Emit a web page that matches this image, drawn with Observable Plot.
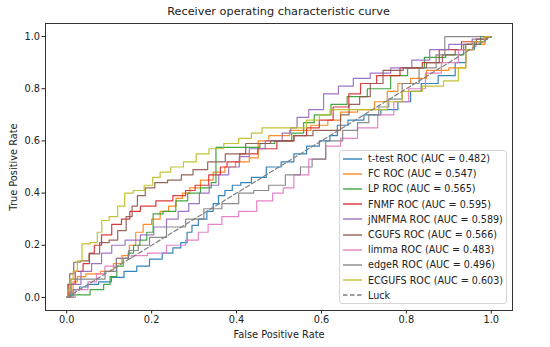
<!DOCTYPE html>
<html><head><meta charset="utf-8">
<script src="https://cdn.jsdelivr.net/npm/d3@7"></script>
<script src="https://cdn.jsdelivr.net/npm/@observablehq/plot@0.6"></script>
<style>
body{margin:0;background:#fff;font-family:"DejaVu Sans",sans-serif;}
#wrap{position:relative;width:550px;height:347px;}
#chart{position:absolute;left:0;top:0;}
#title{position:absolute;left:45px;width:467px;top:4px;text-align:center;font-size:11.3px;color:#222;line-height:16px;}
#legend{position:absolute;left:339px;top:150px;width:168px;height:154px;box-sizing:border-box;border:1px solid #d6d6d6;border-radius:3px;background:rgba(255,255,255,0.85);font-size:9.6px;color:#222;}
.row{display:flex;align-items:center;height:15.2px;}
.row svg{margin-left:3px;margin-right:6px;}
</style></head><body>
<div id="wrap"><div id="chart"></div><div id="title">Receiver operating characteristic curve</div><div id="legend"></div></div>
<script>
const seriesNames = ["t-test","FC","LP","FNMF","jNMFMA","CGUFS","limma","edgeR","ECGUFS"];
const legendLabels = ["t-test ROC (AUC = 0.482)","FC ROC (AUC = 0.547)","LP ROC (AUC = 0.565)","FNMF ROC (AUC = 0.595)","jNMFMA ROC (AUC = 0.589)","CGUFS ROC (AUC = 0.566)","limma ROC (AUC = 0.483)","edgeR ROC (AUC = 0.496)","ECGUFS ROC (AUC = 0.603)"];
const seriesColors = ["#1f77b4","#ff7f0e","#2ca02c","#d62728","#9467bd","#8c564b","#e377c2","#7f7f7f","#bcbd22"];
const axisTicks = [0,0.2,0.4,0.6,0.8,1.0];

const ttest = [[0,0],[0.01,0.01],[0.02,0.03],[0.04,0.04],[0.06,0.05],[0.09,0.06],[0.12,0.077],[0.15,0.1],[0.18,0.12],[0.21,0.147],[0.24,0.17],[0.26,0.19],[0.277,0.21],[0.29,0.25],[0.3,0.276],[0.32,0.3],[0.34,0.33],[0.35,0.36],[0.365,0.39],[0.38,0.41],[0.4,0.43],[0.42,0.44],[0.45,0.46],[0.49,0.5],[0.52,0.52],[0.55,0.55],[0.58,0.58],[0.61,0.6],[0.63,0.62],[0.645,0.66],[0.68,0.68],[0.72,0.7],[0.76,0.72],[0.8,0.75],[0.82,0.79],[0.85,0.82],[0.9,0.85],[0.93,0.9],[0.95,0.95],[0.97,0.98],[1,1]];
const fc = [[0,0],[0.01,0.02],[0.02,0.06],[0.03,0.08],[0.06,0.09],[0.1,0.1],[0.12,0.13],[0.14,0.16],[0.155,0.2],[0.17,0.25],[0.19,0.28],[0.21,0.3],[0.23,0.33],[0.25,0.35],[0.265,0.38],[0.28,0.4],[0.3,0.42],[0.33,0.45],[0.36,0.48],[0.385,0.5],[0.41,0.52],[0.45,0.535],[0.452,0.6],[0.5,0.62],[0.55,0.64],[0.6,0.66],[0.63,0.68],[0.66,0.71],[0.71,0.72],[0.74,0.75],[0.77,0.79],[0.79,0.82],[0.83,0.84],[0.865,0.87],[0.935,0.88],[0.945,0.95],[0.97,0.97],[1,1]];
const lp = [[0,0],[0.03,0.01],[0.08,0.03],[0.094,0.05],[0.11,0.08],[0.126,0.12],[0.14,0.15],[0.15,0.17],[0.165,0.2],[0.18,0.22],[0.197,0.25],[0.21,0.32],[0.244,0.33],[0.27,0.37],[0.3,0.4],[0.33,0.42],[0.351,0.44],[0.352,0.575],[0.44,0.575],[0.47,0.59],[0.51,0.6],[0.55,0.63],[0.566,0.67],[0.6,0.7],[0.645,0.74],[0.676,0.77],[0.74,0.8],[0.786,0.85],[0.82,0.88],[0.865,0.92],[0.92,0.93],[0.95,0.97],[1,1]];
const fnmf = [[0,0],[0.01,0.05],[0.03,0.1],[0.047,0.13],[0.06,0.17],[0.07,0.2],[0.094,0.24],[0.118,0.28],[0.14,0.3],[0.157,0.33],[0.19,0.35],[0.23,0.37],[0.27,0.39],[0.29,0.41],[0.315,0.43],[0.354,0.47],[0.37,0.5],[0.385,0.52],[0.43,0.55],[0.47,0.57],[0.52,0.6],[0.55,0.62],[0.58,0.65],[0.61,0.68],[0.645,0.73],[0.684,0.78],[0.7,0.82],[0.76,0.85],[0.81,0.88],[0.865,0.9],[0.89,0.95],[0.97,0.98],[1,1]];
const jnmfma = [[0,0],[0.02,0.05],[0.047,0.1],[0.07,0.13],[0.094,0.17],[0.118,0.2],[0.157,0.22],[0.19,0.24],[0.22,0.27],[0.25,0.3],[0.275,0.33],[0.3,0.36],[0.325,0.4],[0.346,0.43],[0.37,0.47],[0.393,0.5],[0.42,0.54],[0.44,0.57],[0.495,0.6],[0.52,0.63],[0.535,0.65],[0.55,0.69],[0.59,0.72],[0.62,0.78],[0.66,0.81],[0.69,0.84],[0.74,0.86],[0.786,0.88],[0.84,0.91],[0.87,0.95],[0.93,0.97],[0.98,0.99],[1,1]];
const cgufs = [[0,0],[0.005,0.05],[0.009,0.09],[0.024,0.135],[0.04,0.14],[0.065,0.167],[0.09,0.21],[0.11,0.22],[0.13,0.256],[0.15,0.31],[0.158,0.35],[0.175,0.39],[0.195,0.42],[0.22,0.44],[0.255,0.45],[0.285,0.47],[0.31,0.49],[0.354,0.52],[0.393,0.55],[0.45,0.59],[0.51,0.6],[0.56,0.62],[0.6,0.64],[0.64,0.64],[0.65,0.7],[0.68,0.74],[0.7,0.77],[0.73,0.82],[0.76,0.87],[0.825,0.88],[0.87,0.9],[0.9,0.93],[0.93,0.95],[0.95,0.97],[0.98,0.99],[1,1]];
const limma = [[0,0],[0.04,0.03],[0.06,0.06],[0.08,0.09],[0.1,0.12],[0.134,0.15],[0.17,0.16],[0.21,0.17],[0.26,0.2],[0.3,0.22],[0.32,0.25],[0.346,0.28],[0.385,0.31],[0.425,0.33],[0.47,0.37],[0.5,0.4],[0.52,0.42],[0.55,0.47],[0.59,0.53],[0.63,0.58],[0.66,0.61],[0.71,0.65],[0.755,0.7],[0.786,0.75],[0.825,0.8],[0.865,0.86],[0.9,0.9],[0.945,0.95],[0.97,0.98],[1,1]];
const edger = [[0,0],[0.02,0.07],[0.08,0.07],[0.1,0.1],[0.134,0.15],[0.157,0.18],[0.18,0.2],[0.21,0.23],[0.26,0.27],[0.3,0.3],[0.346,0.34],[0.385,0.36],[0.425,0.4],[0.456,0.41],[0.495,0.43],[0.535,0.47],[0.566,0.5],[0.59,0.53],[0.63,0.6],[0.67,0.64],[0.7,0.67],[0.723,0.7],[0.747,0.73],[0.77,0.76],[0.81,0.82],[0.85,0.88],[0.89,0.93],[0.891,1.0],[1,1]];
const ecgufs = [[0,0],[0.005,0.03],[0.01,0.07],[0.02,0.1],[0.03,0.14],[0.042,0.205],[0.069,0.21],[0.075,0.25],[0.09,0.295],[0.11,0.31],[0.13,0.35],[0.143,0.4],[0.17,0.41],[0.195,0.43],[0.21,0.46],[0.23,0.48],[0.26,0.5],[0.29,0.52],[0.32,0.55],[0.35,0.57],[0.39,0.59],[0.42,0.61],[0.45,0.63],[0.47,0.65],[0.55,0.65],[0.58,0.68],[0.61,0.7],[0.63,0.72],[0.74,0.72],[0.77,0.75],[0.81,0.79],[0.865,0.81],[0.91,0.83],[0.935,0.88],[0.945,0.95],[0.97,0.98],[1,1]];
const luck = [[0,0],[1,1]];

const seriesData = [ttest, fc, lp, fnmf, jnmfma, cgufs, limma, edger, ecgufs];
const rows = seriesData.flatMap((pts, i) => pts.map(([fpr, tpr]) => ({series: seriesNames[i], fpr, tpr})));

const plot = Plot.plot({
  width: 550, height: 347,
  marginLeft: 45, marginRight: 38, marginTop: 23, marginBottom: 37,
  x: {domain: [-0.05, 1.05]},
  y: {domain: [-0.05, 1.05]},
  color: {domain: seriesNames, range: seriesColors},
  style: {fontFamily: "DejaVu Sans, sans-serif", fontSize: "9.8px", color: "#222", background: "white"},
  marks: [
    Plot.axisX({ticks: axisTicks, tickFormat: d3.format(".1f"), tickSize: 3.5, tickPadding: 2, label: "False Positive Rate", labelAnchor: "center", labelArrow: "none", labelOffset: 27}),
    Plot.axisY({ticks: axisTicks, tickFormat: d3.format(".1f"), tickSize: 3.5, tickPadding: 2, label: "True Positive Rate", labelAnchor: "center", labelArrow: "none", labelOffset: 35}),
    Plot.line(rows, {x: "fpr", y: "tpr", z: "series", stroke: "series", curve: "step", strokeWidth: 1.2, strokeOpacity: 0.9}),
    Plot.line(luck, {x: d => d[0], y: d => d[1], stroke: "#7f7f7f", strokeWidth: 1.2, strokeDasharray: "4.5,2.5"}),
    Plot.frame({stroke: "#333", strokeWidth: 1})
  ]
});
document.getElementById("chart").appendChild(plot);

const legend = document.getElementById("legend");
const entries = legendLabels.map((t, i) => ({text: t, color: seriesColors[i], dash: null})).concat([{text: "Luck", color: "#7f7f7f", dash: "4.5,2.5"}]);
for (const e of entries) {
  const row = document.createElement("div");
  row.className = "row";
  row.innerHTML = `<svg width="19" height="6"><line x1="0" x2="19" y1="3" y2="3" stroke="${e.color}" stroke-width="1.3" ${e.dash ? `stroke-dasharray="${e.dash}"` : ""}/></svg><span>${e.text}</span>`;
  legend.appendChild(row);
}
</script>
</body></html>
